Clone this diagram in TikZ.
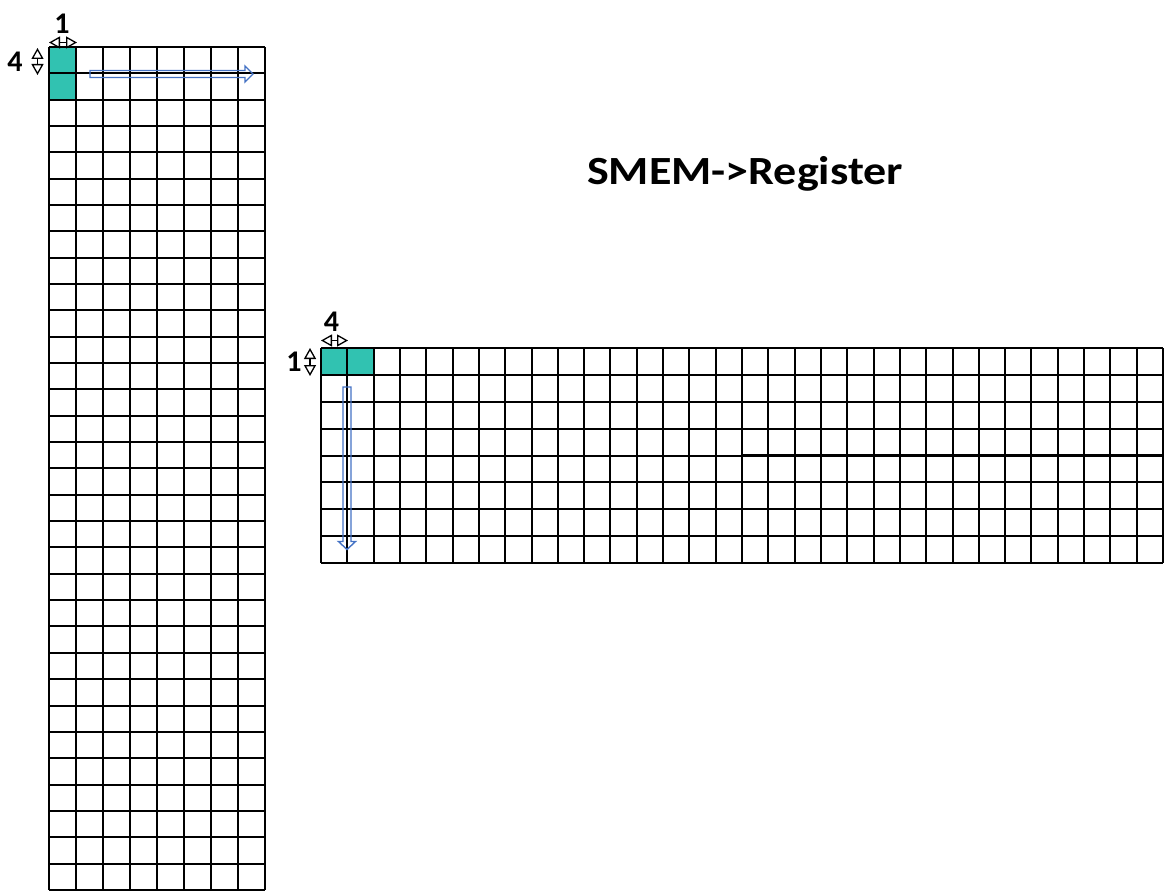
\documentclass[tikz,border=0pt]{standalone}
\usepackage{fontspec}
\setmainfont{Carlito}
\usetikzlibrary{arrows.meta}
\definecolor{cellteal}{RGB}{49,194,177}
\definecolor{flowblue}{RGB}{68,114,196}

\begin{document}
\begin{tikzpicture}[x=1pt, y=-1pt,
    gridline/.style={line width=2pt, black},
    tile/.style={fill=cellteal},
    flow/.style={draw=flowblue, line width=1.4pt},
    dim/.style={{Triangle[open,length=11pt,width=12pt]}-{Triangle[open,length=11pt,width=12pt]}, line width=1.3pt},
    lbl/.style={font=\bfseries\fontsize{30}{30}\selectfont, inner sep=0pt},
    title/.style={font=\bfseries\fontsize{40}{40}\selectfont, inner sep=0pt},
]
\useasboundingbox (0,0) rectangle (1169,896);

% column-major tile (8 x 32)
\fill[tile] (49,47) rectangle (76,99.7);
\foreach \c in {0,...,8}
  \draw[gridline] ({49+27*\c},47) -- ({49+27*\c},890);
\foreach \r in {0,...,32}
  \draw[gridline] (49,{47+26.34*\r}) -- (265,{47+26.34*\r});
\draw[flow] (90,70.5) -- (245,70.5) -- (245,66) -- (253,74) -- (245,82) -- (245,77.5) -- (90,77.5) -- cycle;

\node[lbl] (lcol) at (62,24) {1};
\coordinate (lcola) at (49,42.5);
\coordinate (lcolb) at (77,42.5);
\draw[dim] (lcola) -- (lcolb);
\node[lbl] (lrow) at (15,62) {4};
\coordinate (lrowa) at (37.5,48);
\coordinate (lrowb) at (37.5,75);
\draw[dim] (lrowa) -- (lrowb);

% row-major tile (32 x 8)
\fill[tile] (321,348) rectangle (373.6,374.9);
\foreach \c in {0,...,32}
  \draw[gridline] ({321+26.3125*\c},348) -- ({321+26.3125*\c},563);
\foreach \r in {0,...,8}
  \draw[gridline] (321,{348+26.875*\r}) -- (1163,{348+26.875*\r});
\draw[line width=2.7pt] ({321+26.3125*16},{348+26.875*4}) -- (1163,{348+26.875*4});
\draw[flow] (343,387) -- (343,541.5) -- (338.5,541.5) -- (347,549.5) -- (355.5,541.5) -- (351,541.5) -- (351,387) -- cycle;

\node[lbl] (rcol) at (331.5,322) {4};
\coordinate (rcola) at (321,340.5);
\coordinate (rcolb) at (348,340.5);
\draw[dim] (rcola) -- (rcolb);
\node[lbl] (rrow) at (294,362) {1};
\coordinate (rrowa) at (310,348);
\coordinate (rrowb) at (310,376);
\draw[dim] (rrowa) -- (rrowb);

\node[title] (head) at (745,174) {\scalebox{1.15}[1]{SMEM->Register}};
\end{tikzpicture}
\end{document}
